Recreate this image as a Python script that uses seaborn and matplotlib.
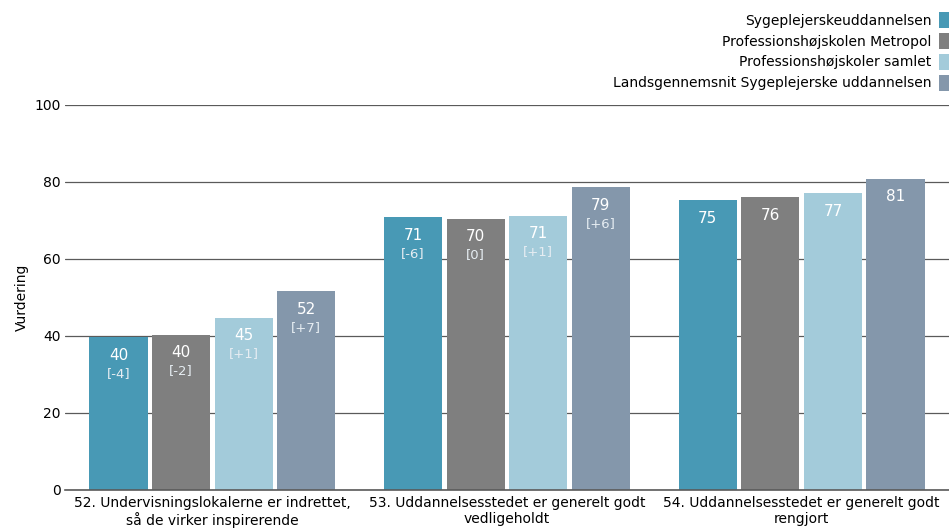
import pandas as pd
from matplotlib import pyplot as plt
from matplotlib.patches import Patch
import seaborn as sns

# data
questions = ['52. Undervisningslokalerne er indrettet,\nså de virker inspirerende',
             '53. Uddannelsesstedet er generelt godt\nvedligeholdt',
             '54. Uddannelsesstedet er generelt godt\nrengjort']
series = ['Sygeplejerskeuddannelsen',
          'Professionshøjskolen Metropol',
          'Professionshøjskoler samlet',
          'Landsgennemsnit Sygeplejerske uddannelsen']
sygepleje = [39.7, 70.9, 75.3]
metropol = [40.3, 70.4, 76.1]
samlet = [44.7, 71.2, 77.1]
landsgns = [51.6, 78.6, 80.8]
diffs = {
    'Sygeplejerskeuddannelsen': ['[-4]', '[-6]', ''],
    'Professionshøjskolen Metropol': ['[-2]', '[0]', ''],
    'Professionshøjskoler samlet': ['[+1]', '[+1]', ''],
    'Landsgennemsnit Sygeplejerske uddannelsen': ['[+7]', '[+6]', ''],
}
colors = ['#4899b5', '#7f7f7f', '#a3cbda', '#8497ab']

rows = []
for name, vals in zip(series, [sygepleje, metropol, samlet, landsgns]):
    for q, v in zip(questions, vals):
        rows.append({'spørgsmål': q, 'serie': name, 'vurdering': v})
dataset = pd.DataFrame(rows)

sns.set_theme(style='white')
plt.rcParams['font.family'] = ['DejaVu Sans']
plt.rcParams['text.color'] = 'black'
plt.rcParams['axes.labelcolor'] = 'black'
fig = plt.figure(figsize=(9.49, 5.30), dpi=100)
ax = fig.add_axes([0.0685, 0.0755, 0.9315, 0.7265])

sns.barplot(data=dataset, x='spørgsmål', y='vurdering', hue='serie',
            hue_order=series, order=questions, palette=colors,
            width=0.85, gap=0.07, saturation=1, linewidth=0,
            legend=False, ax=ax)

for container, name in zip(ax.containers, series):
    for bar, diff in zip(container, diffs[name]):
        h = bar.get_height()
        x = bar.get_x() + bar.get_width() / 2
        ax.annotate(f'{h:.0f}', (x, h), xytext=(0, -13),
                    textcoords='offset points', ha='center', va='center',
                    color='white', fontsize=11)
        if diff:
            ax.annotate(diff, (x, h), xytext=(0, -26),
                        textcoords='offset points', ha='center',
                        va='center', color='#e6edf2', fontsize=9.5)

ax.set_ylim(0, 100)
ax.set_xlim(-0.5, 2.5)
ax.set_yticks([0, 20, 40, 60, 80, 100])
ax.yaxis.grid(True, color='#5a5a5a', linewidth=0.9)
ax.set_axisbelow(True)
for side in ['top', 'right', 'left']:
    ax.spines[side].set_visible(False)
ax.spines['bottom'].set_color('#5a5a5a')
ax.spines['bottom'].set_linewidth(1.2)
ax.tick_params(axis='both', length=0, labelsize=10, colors='black')
ax.tick_params(axis='y', pad=3)
ax.tick_params(axis='x', pad=4)
ax.set_xlabel('')
ax.set_ylabel('Vurdering', fontsize=10, labelpad=4)

handles = [Patch(facecolor=c, edgecolor='none') for c in colors]
fig.legend(handles=handles, labels=series, loc='upper right',
           bbox_to_anchor=(1.0, 1 - 12 / 530), frameon=False,
           markerfirst=False, fontsize=10, handlelength=0.75,
           handleheight=1.4, labelspacing=0.35, handletextpad=0.5,
           borderpad=0, borderaxespad=0, labelcolor='black')

plt.savefig('out.png', dpi=100)
